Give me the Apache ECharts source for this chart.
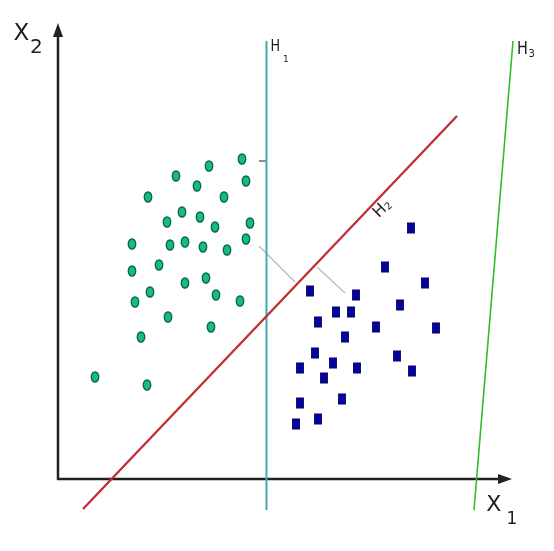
<!DOCTYPE html>
<html>
<head>
<meta charset="utf-8">
<script src="https://cdn.jsdelivr.net/npm/echarts@6/dist/echarts.min.js"></script>
<style>
html,body{margin:0;padding:0;background:#fff;}
#c{width:554px;height:551px;}
</style>
</head>
<body>
<div id="c"></div>
<script>
// class 1 (green ellipses) points
const class1 = [
  [184,320],[151,313],[118,303],[139,293],[188,298],[90,282],[166,282],[124,267],
  [142,262],[109,257],[157,252],[192,256],[74,235],[112,234],[127,237],[145,232],
  [169,229],[188,240],[101,214],[74,208],[127,196],[148,201],[92,187],[77,177],
  [158,184],[182,178],[110,162],[153,152],[83,142],[37,102],[89,94]
];
// class 2 (blue squares) points
const class2 = [
  [353,251],[327,212],[367,196],[252,188],[298,184],[342,174],[278,167],[293,167],
  [260,157],[318,152],[378,151],[287,142],[257,126],[339,123],[275,116],[242,111],
  [299,111],[354,108],[266,101],[284,80],[242,76],[260,60],[238,55]
];
// separating lines
const h1 = [[208.5,438],[208.5,-31]];
const h2 = [[25,-30],[399,363]];
const h3 = [[455,438],[416,-31]];
// margin distance markers
const margin1 = [[201,233],[237,197]];
const margin2 = [[259,212],[287,186]];
const tickH1 = [[201,318],[208,318]];
// axes
const xAxisLine = [[-1,0],[447,0]];
const yAxisLine = [[0,-1],[0,449]];
const arrowHeads = [
  {value:[447,0], symbolRotate:-90},
  {value:[0,449], symbolRotate:0}
];

const chart = echarts.init(document.getElementById('c'), null, {renderer:'canvas'});
const FONT = 'DejaVu Sans';
const TXT = '#1e1e1e';

function seg(name, data, color, width, z){
  return {name, type:'line', data, symbol:'none', silent:true, z:z||2,
    lineStyle:{color, width, opacity:1}, animation:false};
}

const option = {
  backgroundColor:'#ffffff',
  animation:false,
  grid:{left:0,right:0,top:0,bottom:0},
  xAxis:{type:'value', min:-58, max:496, show:false},
  yAxis:{type:'value', min:-72, max:479, show:false},
  series:[
    seg('margin1', margin1, '#bdbdbd', 1.5, 1),
    seg('margin2', margin2, '#bdbdbd', 1.5, 1),
    seg('tickH1', tickH1, '#666666', 1.5, 1),
    seg('xAxis', xAxisLine, '#222222', 2.5, 3),
    seg('yAxis', yAxisLine, '#222222', 2.5, 3),
    {name:'arrows', type:'scatter', data:arrowHeads, symbol:'triangle', symbolSize:[10,14],
      itemStyle:{color:'#222222', opacity:1}, silent:true, z:4},
    seg('H1', h1, '#44a7b4', 2, 3),
    seg('H2', h2, '#c42b33', 2.3, 3),
    seg('H3', h3, '#2fbf2f', 1.6, 3),
    {name:'class1', type:'scatter', data:class1, symbol:'circle', symbolSize:[7.5,10],
      itemStyle:{color:'#17bd7c', borderColor:'#0a6640', borderWidth:1.5, opacity:1}, silent:true, z:5},
    {name:'class2', type:'scatter', data:class2, symbol:'rect', symbolSize:[7,10],
      itemStyle:{color:'#05059e', borderColor:'#000066', borderWidth:1, opacity:1}, silent:true, z:5}
  ],
  graphic:[
    {type:'text', x:21.3, y:34.2, style:{text:'X', font:'23px '+FONT, fill:TXT, align:'center', verticalAlign:'middle'}},
    {type:'text', x:36.3, y:47.5, style:{text:'2', font:'20px '+FONT, fill:TXT, align:'center', verticalAlign:'middle'}},
    {type:'text', x:493.8, y:505.2, style:{text:'X', font:'22px '+FONT, fill:TXT, align:'center', verticalAlign:'middle'}},
    {type:'text', x:511.8, y:519.2, style:{text:'1', font:'17px '+FONT, fill:TXT, align:'center', verticalAlign:'middle'}},
    {type:'text', x:275.3, y:47.2, scaleX:0.85, style:{text:'H', font:'15px '+FONT, fill:TXT, align:'center', verticalAlign:'middle'}},
    {type:'text', x:285.8, y:59.7, style:{text:'1', font:'9px '+FONT, fill:TXT, align:'center', verticalAlign:'middle'}},
    {type:'text', x:522.5, y:49.7, scaleX:0.85, style:{text:'H', font:'17px '+FONT, fill:TXT, align:'center', verticalAlign:'middle'}},
    {type:'text', x:531.7, y:54, style:{text:'3', font:'10px '+FONT, fill:TXT, align:'center', verticalAlign:'middle'}},
    {type:'group', x:380, y:211, rotation:0.78, children:[
      {type:'text', x:0, y:0, style:{text:'H', font:'16px '+FONT, fill:TXT, align:'center', verticalAlign:'middle'}},
      {type:'text', x:9.5, y:3, style:{text:'2', font:'10px '+FONT, fill:TXT, align:'center', verticalAlign:'middle'}}
    ]}
  ]
};
chart.setOption(option);
</script>
</body>
</html>
